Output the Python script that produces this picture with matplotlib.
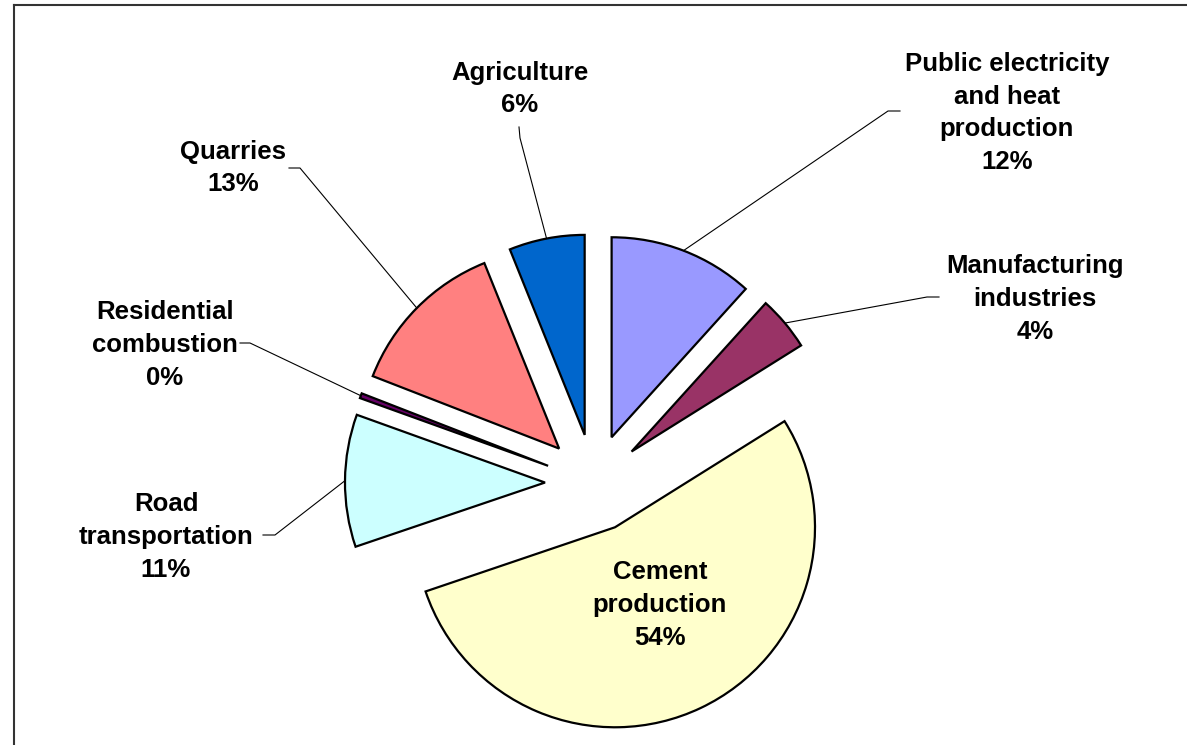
"""
plot.py
Exploded pie chart of emission shares by source sector, drawn in
Excel style with leader lines from each label to its slice.
"""
import numpy as np
import matplotlib
matplotlib.use("Agg")
import matplotlib.pyplot as plt

#data, clockwise from 12 o'clock
sectors = ["Public electricity\nand heat\nproduction",
           "Manufacturing\nindustries",
           "Cement\nproduction",
           "Road\ntransportation",
           "Residential\ncombustion",
           "Quarries",
           "Agriculture"]
shares = [11.7, 4.4, 53.7, 10.7, 0.4, 13.0, 6.1]
colors = ["#9999FF", "#993366", "#FFFFCC", "#CCFFFF", "#660066", "#FF8080", "#0066CC"]

#figure geometry in pixels (image coords, y down)
W, H = 1187, 745
CENTER = (594, 483)
RADIUS = 200
EXPLODE = 49

#label block centres and leader line start/elbow points (image coords)
label_pos = [(1007, 113), (1035, 299), (660, 605), (166, 537),
             (165, 345), (233, 168), (520, 89)]
leader_pts = [[(900, 111), (888, 111)],
              [(939, 297), (927, 297)],
              None,
              [(263, 535), (275, 535)],
              [(240, 343), (250, 343)],
              [(289, 168), (300, 168)],
              [(519, 127), (520, 138)]]


def flip(p):
    return (p[0], H - p[1])


def main():
    plt.rcParams["font.family"] = ["Liberation Sans", "DejaVu Sans"]
    fig = plt.figure(figsize=(W / 100, H / 100), dpi=100)
    ax = fig.add_axes([0, 0, 1, 1])

    wedges, _ = ax.pie(shares, colors=colors, startangle=90, counterclock=False,
                       center=flip(CENTER), radius=RADIUS,
                       explode=[EXPLODE] * len(shares),
                       wedgeprops=dict(edgecolor="black", linewidth=1.6),
                       frame=True)
    ax.set_xlim(0, W)
    ax.set_ylim(0, H)
    ax.set_aspect("equal")
    ax.axis("off")

    total = sum(shares)
    for i, w in enumerate(wedges):
        pct = f"{round(shares[i] / total * 100)}%"
        tx, ty = flip(label_pos[i])
        ax.text(tx, ty, f"{sectors[i]}\n{pct}", ha="center", va="center",
                multialignment="center", fontsize=18.5, fontweight="bold",
                linespacing=1.46)
        if leader_pts[i] is None:
            continue
        # leader line ends on the middle of the slice's arc
        thm = np.deg2rad(0.5 * (w.theta1 + w.theta2))
        arc_x = w.center[0] + w.r * np.cos(thm)
        arc_y = w.center[1] + w.r * np.sin(thm)
        (x0, y0), (x1, y1) = [flip(p) for p in leader_pts[i]]
        ax.plot([x0, x1, arc_x], [y0, y1, arc_y], color="black", linewidth=0.8)

    #chart frame (only top and left edges fall inside the picture)
    ax.plot([14, W], [H - 5, H - 5], color="#333333", linewidth=1.5, clip_on=False)
    ax.plot([14, 14], [H - 5, 0], color="#333333", linewidth=1.5, clip_on=False)

    fig.savefig("out.png", dpi=100, facecolor="white")
    plt.close(fig)


if __name__ == "__main__":
    main()
